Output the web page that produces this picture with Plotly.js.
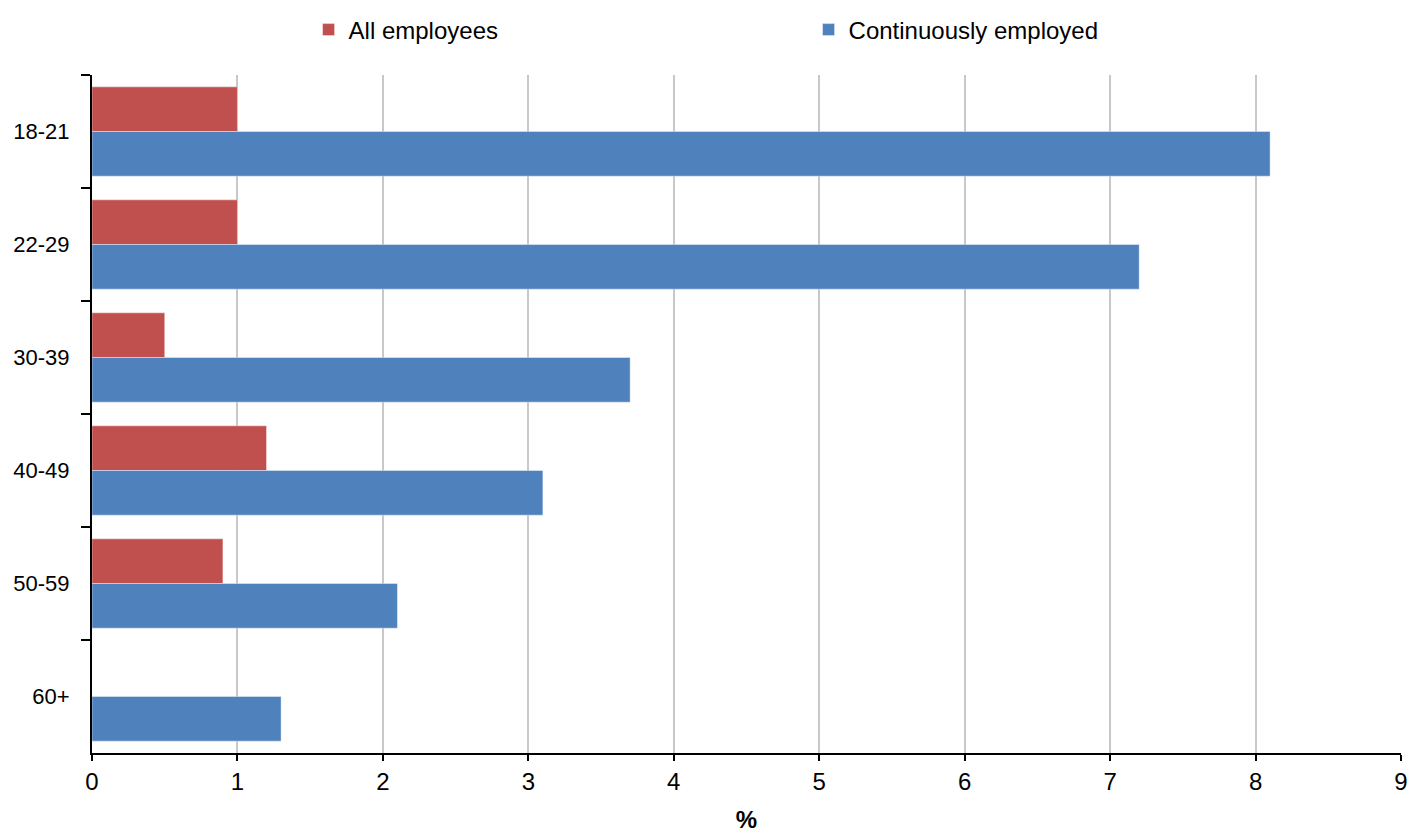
<!DOCTYPE html>
<html>
<head>
<meta charset="utf-8">
<script src="https://cdn.plot.ly/plotly-3.0.1.min.js"></script>
<style>html,body{margin:0;padding:0;background:#fff;}#chart{width:1409px;height:833px;}</style>
</head>
<body>
<div id="chart"></div>
<script>
const ageGroups = ["18-21", "22-29", "30-39", "40-49", "50-59", "60+"];
const allEmployees = [1.0, 1.0, 0.5, 1.2, 0.9, 0];
const continuouslyEmployed = [8.1, 7.2, 3.7, 3.1, 2.1, 1.3];
const seriesNames = ["All employees", "Continuously employed"];
const xTicks = [0, 1, 2, 3, 4, 5, 6, 7, 8, 9];

const fam = "Liberation Sans, Arial, sans-serif";
const yTickFont = {family: fam, size: 22, color: "#000"};
const xTickFont = {family: fam, size: 24, color: "#000"};
const legendFont = {family: fam, size: 24, color: "#000"};

const traces = [
  {type: "bar", orientation: "h", name: seriesNames[0], y: ageGroups, x: allEmployees,
   marker: {color: "#C0504D", line: {color: "rgba(255,255,255,0.4)", width: 1}}, hoverinfo: "x+y+name"},
  {type: "bar", orientation: "h", name: seriesNames[1], y: ageGroups, x: continuouslyEmployed,
   marker: {color: "#4F81BD", line: {color: "rgba(255,255,255,0.4)", width: 1}}, hoverinfo: "x+y+name"}
];

const layout = {
  width: 1409, height: 833,
  margin: {l: 92, r: 8, t: 75, b: 80},
  paper_bgcolor: "#fff", plot_bgcolor: "#fff",
  font: yTickFont,
  barmode: "group", bargap: 0.21, bargroupgap: 0,
  showlegend: true,
  legend: {orientation: "h", xref: "container", yref: "container", x: 0.219, y: 0.991,
           xanchor: "left", yanchor: "top", font: legendFont,
           entrywidth: 455, entrywidthmode: "pixels", traceorder: "normal"},
  xaxis: {range: [0, 9], tickvals: xTicks, ticktext: xTicks.map(String),
          showgrid: true, gridcolor: "#c8c8c8", gridwidth: 1.5,
          showline: true, linecolor: "#000", linewidth: 2,
          ticks: "outside", ticklen: 6, tickwidth: 2, tickcolor: "#000",
          zeroline: false, tickfont: xTickFont,
          title: {text: "<b>%</b>", font: xTickFont, standoff: 18}},
  yaxis: {type: "category", autorange: "reversed", showgrid: false,
          showline: true, linecolor: "#000", linewidth: 2,
          ticks: "outside", ticklen: 9, tickwidth: 2, tickcolor: "#000",
          tickson: "boundaries", tickfont: yTickFont, ticklabelstandoff: 16}
};

Plotly.newPlot("chart", traces, layout, {displayModeBar: false});
</script>
</body>
</html>
